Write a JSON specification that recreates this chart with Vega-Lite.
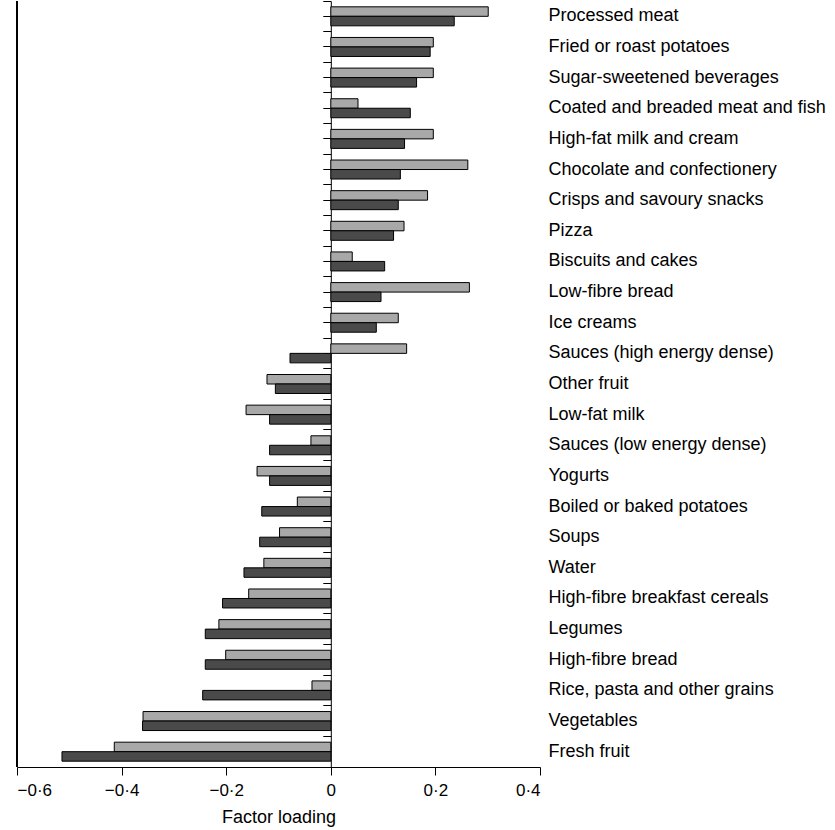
{
  "$schema": "https://vega.github.io/schema/vega-lite/v6.json",
  "width": 523,
  "height": 766,
  "autosize": {"type": "none"},
  "padding": {"left": 17, "top": 1, "right": 295, "bottom": 63},
  "background": "white",
  "config": {
    "view": {"stroke": null},
    "font": "Liberation Sans",
    "axis": {"grid": false}
  },
  "data": {
    "values": [
      {"food": "Processed meat", "series": "Series 1", "loading": 0.301},
      {"food": "Processed meat", "series": "Series 2", "loading": 0.236},
      {"food": "Fried or roast potatoes", "series": "Series 1", "loading": 0.196},
      {"food": "Fried or roast potatoes", "series": "Series 2", "loading": 0.190},
      {"food": "Sugar-sweetened beverages", "series": "Series 1", "loading": 0.196},
      {"food": "Sugar-sweetened beverages", "series": "Series 2", "loading": 0.164},
      {"food": "Coated and breaded meat and fish", "series": "Series 1", "loading": 0.052},
      {"food": "Coated and breaded meat and fish", "series": "Series 2", "loading": 0.152},
      {"food": "High-fat milk and cream", "series": "Series 1", "loading": 0.196},
      {"food": "High-fat milk and cream", "series": "Series 2", "loading": 0.141},
      {"food": "Chocolate and confectionery", "series": "Series 1", "loading": 0.262},
      {"food": "Chocolate and confectionery", "series": "Series 2", "loading": 0.133},
      {"food": "Crisps and savoury snacks", "series": "Series 1", "loading": 0.185},
      {"food": "Crisps and savoury snacks", "series": "Series 2", "loading": 0.129},
      {"food": "Pizza", "series": "Series 1", "loading": 0.140},
      {"food": "Pizza", "series": "Series 2", "loading": 0.120},
      {"food": "Biscuits and cakes", "series": "Series 1", "loading": 0.041},
      {"food": "Biscuits and cakes", "series": "Series 2", "loading": 0.103},
      {"food": "Low-fibre bread", "series": "Series 1", "loading": 0.265},
      {"food": "Low-fibre bread", "series": "Series 2", "loading": 0.096},
      {"food": "Ice creams", "series": "Series 1", "loading": 0.129},
      {"food": "Ice creams", "series": "Series 2", "loading": 0.087},
      {"food": "Sauces (high energy dense)", "series": "Series 1", "loading": 0.145},
      {"food": "Sauces (high energy dense)", "series": "Series 2", "loading": -0.078},
      {"food": "Other fruit", "series": "Series 1", "loading": -0.122},
      {"food": "Other fruit", "series": "Series 2", "loading": -0.106},
      {"food": "Low-fat milk", "series": "Series 1", "loading": -0.162},
      {"food": "Low-fat milk", "series": "Series 2", "loading": -0.117},
      {"food": "Sauces (low energy dense)", "series": "Series 1", "loading": -0.038},
      {"food": "Sauces (low energy dense)", "series": "Series 2", "loading": -0.117},
      {"food": "Yogurts", "series": "Series 1", "loading": -0.141},
      {"food": "Yogurts", "series": "Series 2", "loading": -0.117},
      {"food": "Boiled or baked potatoes", "series": "Series 1", "loading": -0.064},
      {"food": "Boiled or baked potatoes", "series": "Series 2", "loading": -0.132},
      {"food": "Soups", "series": "Series 1", "loading": -0.098},
      {"food": "Soups", "series": "Series 2", "loading": -0.136},
      {"food": "Water", "series": "Series 1", "loading": -0.128},
      {"food": "Water", "series": "Series 2", "loading": -0.166},
      {"food": "High-fibre breakfast cereals", "series": "Series 1", "loading": -0.157},
      {"food": "High-fibre breakfast cereals", "series": "Series 2", "loading": -0.207},
      {"food": "Legumes", "series": "Series 1", "loading": -0.214},
      {"food": "Legumes", "series": "Series 2", "loading": -0.240},
      {"food": "High-fibre bread", "series": "Series 1", "loading": -0.201},
      {"food": "High-fibre bread", "series": "Series 2", "loading": -0.240},
      {"food": "Rice, pasta and other grains", "series": "Series 1", "loading": -0.036},
      {"food": "Rice, pasta and other grains", "series": "Series 2", "loading": -0.245},
      {"food": "Vegetables", "series": "Series 1", "loading": -0.359},
      {"food": "Vegetables", "series": "Series 2", "loading": -0.360},
      {"food": "Fresh fruit", "series": "Series 1", "loading": -0.414},
      {"food": "Fresh fruit", "series": "Series 2", "loading": -0.514}
    ]
  },
  "resolve": {"axis": {"y": "independent"}},
  "layer": [
    {
      "mark": {"type": "bar", "stroke": "black", "strokeWidth": 1},
      "encoding": {
        "y": {
          "field": "food", "type": "nominal", "sort": null,
          "scale": {"paddingInner": 0, "paddingOuter": 0},
          "axis": {
            "orient": "right", "domain": false, "ticks": false,
            "labelPadding": 8, "labelFontSize": 18, "labelColor": "black",
            "labelLimit": 400, "title": null
          }
        },
        "yOffset": {
          "field": "series", "type": "nominal", "sort": ["Series 1", "Series 2"],
          "scale": {"paddingInner": 0, "paddingOuter": 0.613}
        },
        "x": {
          "field": "loading", "type": "quantitative", "stack": null,
          "scale": {"domain": [-0.6, 0.4], "nice": false, "zero": false},
          "axis": {
            "values": [-0.6, -0.4, -0.2, 0, 0.2, 0.4],
            "labelExpr": "datum.value == 0 ? '0' : replace(format(datum.value, '.1f'), '.', '·')",
            "domainColor": "black", "tickColor": "black", "tickSize": 8,
            "labelFontSize": 17, "labelColor": "black", "labelPadding": 7,
            "title": "Factor loading", "titleFontSize": 18, "titleFontWeight": "normal",
            "titleColor": "black", "titlePadding": 10
          }
        },
        "fill": {
          "field": "series", "type": "nominal",
          "scale": {"domain": ["Series 1", "Series 2"], "range": ["#a8a8a8", "#4a4a4a"]},
          "legend": null
        }
      }
    },
    {
      "mark": {"type": "bar", "opacity": 0},
      "encoding": {
        "y": {
          "field": "food", "type": "nominal", "sort": null,
          "axis": {
            "orient": "left", "offset": -313.8, "bandPosition": 0.5,
            "domain": true, "domainColor": "black", "ticks": true, "tickColor": "black",
            "tickSize": 8, "labels": false, "title": null
          }
        },
        "x": {"field": "loading", "type": "quantitative"}
      }
    },
    {
      "mark": {"type": "bar", "opacity": 0},
      "encoding": {
        "y": {
          "field": "food", "type": "nominal", "sort": null,
          "axis": {
            "orient": "left", "offset": -313.8, "bandPosition": 0,
            "domain": false, "ticks": true, "tickColor": "black",
            "tickSize": 8, "labels": false, "title": null
          }
        },
        "x": {"field": "loading", "type": "quantitative"}
      }
    },
    {
      "mark": {"type": "rule", "color": "black", "strokeWidth": 1},
      "encoding": {"x": {"datum": -0.6}}
    }
  ]
}
